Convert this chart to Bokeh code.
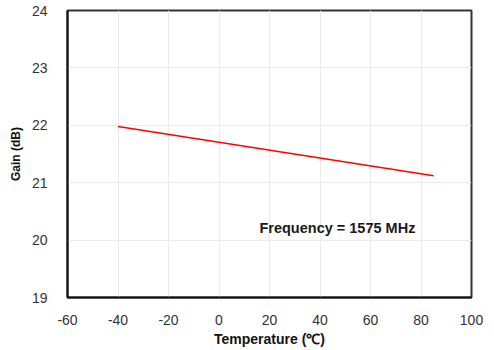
from bokeh.plotting import figure
from bokeh.embed import file_html
from bokeh.resources import INLINE
from bokeh.models import Range1d, FixedTicker, Label, PrintfTickFormatter

temperature = [-40, 85]
gain_db = [21.98, 21.12]
x_ticks = [-60, -40, -20, 0, 20, 40, 60, 80, 100]
y_ticks = [19, 20, 21, 22, 23, 24]
note = "Frequency = 1575 MHz"
x_title = "Temperature (℃)"
y_title = "Gain (dB)"

p = figure(width=494, height=350, output_backend="svg", toolbar_location=None,
           x_range=Range1d(-60, 100), y_range=Range1d(19, 24),
           min_border_left=67, min_border_right=23, min_border_top=10, min_border_bottom=53)
p.line(temperature, gain_db, line_color="#ff0000", line_width=1.6)

p.xaxis.ticker = FixedTicker(ticks=x_ticks)
p.yaxis.ticker = FixedTicker(ticks=y_ticks)
for ax in (p.xaxis[0], p.yaxis[0]):
    ax.formatter = PrintfTickFormatter(format="%d")
    ax.major_tick_line_color = None
    ax.minor_tick_line_color = None
    ax.axis_line_color = "#111111"
    ax.axis_line_width = 2
    ax.major_label_text_font = "Liberation Sans"
    ax.major_label_text_font_size = "14px"
    ax.major_label_text_color = "#333333"
    ax.axis_label_text_font = "Liberation Sans"
    ax.axis_label_text_font_style = "bold"
    ax.axis_label_text_color = "#111111"
p.xaxis.axis_label = x_title
p.yaxis.axis_label = y_title
p.xaxis.axis_label_text_font_size = "14px"
p.yaxis.axis_label_text_font_size = "12px"
p.xaxis.major_label_standoff = 11
p.yaxis.major_label_standoff = 14
p.xaxis.axis_label_standoff = 3
p.yaxis.axis_label_standoff = 6

p.xgrid.ticker = FixedTicker(ticks=x_ticks)
p.ygrid.ticker = FixedTicker(ticks=y_ticks)
p.grid.grid_line_color = "#ebebeb"
p.grid.grid_line_width = 1
p.outline_line_color = "#333333"
p.outline_line_width = 2
p.background_fill_color = "white"
p.border_fill_color = "white"

p.add_layout(Label(x=46.9, y=20.21, text=note, text_align="center", text_baseline="middle",
                   text_font="Liberation Sans", text_font_size="14.5px", text_font_style="bold",
                   text_color="#1a1a1a"))

open("out.html", "w").write(file_html(p, INLINE))
